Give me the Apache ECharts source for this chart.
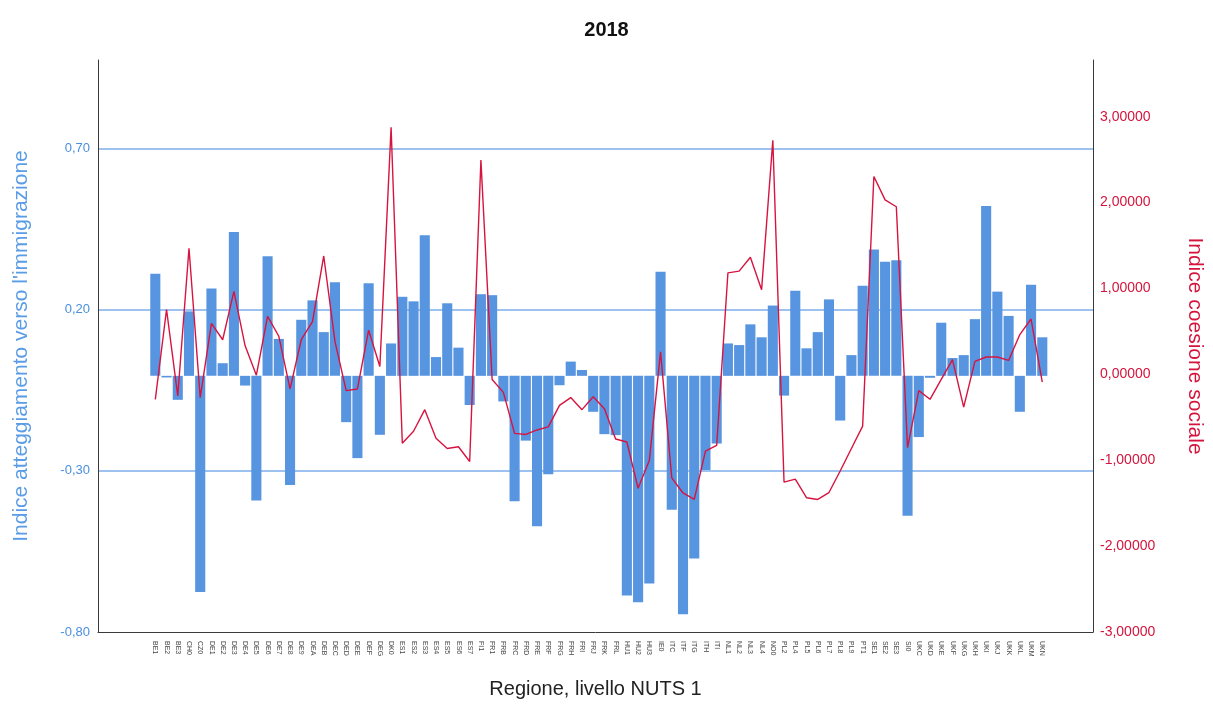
<!DOCTYPE html>
<html>
<head>
<meta charset="utf-8">
<script src="https://cdn.jsdelivr.net/npm/echarts@6/dist/echarts.min.js"></script>
<style>
  html, body { margin: 0; padding: 0; background: #fff; }
  #chart { width: 1213px; height: 704px; }
</style>
</head>
<body>
<div id="chart"></div>
<script>
// regioni NUTS 1
var regioni = ['BE1', 'BE2', 'BE3', 'CH0', 'CZ0', 'DE1', 'DE2', 'DE3', 'DE4', 'DE5', 'DE6', 'DE7', 'DE8', 'DE9', 'DEA', 'DEB',
  'DEC', 'DED', 'DEE', 'DEF', 'DEG', 'DK0', 'ES1', 'ES2', 'ES3', 'ES4', 'ES5', 'ES6', 'ES7', 'FI1', 'FR1', 'FRB',
  'FRC', 'FRD', 'FRE', 'FRF', 'FRG', 'FRH', 'FRI', 'FRJ', 'FRK', 'FRL', 'HU1', 'HU2', 'HU3', 'IE0', 'ITC', 'ITF',
  'ITG', 'ITH', 'ITI', 'NL1', 'NL2', 'NL3', 'NL4', 'NO0', 'PL2', 'PL4', 'PL5', 'PL6', 'PL7', 'PL8', 'PL9', 'PT1',
  'SE1', 'SE2', 'SE3', 'SI0', 'UKC', 'UKD', 'UKE', 'UKF', 'UKG', 'UKH', 'UKI', 'UKJ', 'UKK', 'UKL', 'UKM', 'UKN'];

// indice atteggiamento verso l'immigrazione (barre, asse sinistro)
var atteggiamento = [0.315, -0.005, -0.074, 0.199, -0.667, 0.27, 0.039, 0.444, -0.03, -0.385, 0.369, 0.114, -0.337, 0.173, 0.233, 0.135,
  0.289, -0.143, -0.254, 0.286, -0.182, 0.10, 0.244, 0.23, 0.434, 0.058, 0.224, 0.087, -0.09, 0.252, 0.249, -0.079,
  -0.387, -0.20, -0.464, -0.304, -0.029, 0.044, 0.018, -0.111, -0.18, -0.183, -0.678, -0.699, -0.641, 0.321, -0.413, -0.736,
  -0.564, -0.291, -0.209, 0.10, 0.095, 0.159, 0.119, 0.217, -0.061, 0.263, 0.085, 0.135, 0.236, -0.138, 0.064, 0.278,
  0.39, 0.352, 0.357, -0.432, -0.189, -0.006, 0.164, 0.055, 0.064, 0.175, 0.524, 0.26, 0.185, -0.111, 0.281, 0.119];

// indice coesione sociale (linea, asse destro)
var coesione = [-0.27, 0.77, -0.23, 1.48, -0.25, 0.61, 0.42, 0.98, 0.35, 0.01, 0.69, 0.46, -0.15, 0.42, 0.63, 1.39,
  0.40, -0.17, -0.15, 0.53, 0.11, 2.88, -0.78, -0.64, -0.39, -0.72, -0.84, -0.82, -0.99, 2.50, -0.04, -0.19,
  -0.665, -0.677, -0.625, -0.59, -0.34, -0.25, -0.39, -0.24, -0.38, -0.73, -0.765, -1.30, -0.98, 0.28, -1.18, -1.355,
  -1.43, -0.87, -0.805, 1.195, 1.215, 1.375, 1.00, 2.73, -1.23, -1.195, -1.41, -1.43, -1.35, -1.10, -0.84, -0.58,
  2.31, 2.04, 1.96, -0.83, -0.17, -0.27, -0.04, 0.19, -0.36, 0.17, 0.22, 0.22, 0.18, 0.48, 0.66, -0.07];

// tacche degli assi
var tackeSinistra = [-0.8, -0.3, 0.2, 0.7];
var tackeDestra = [-3, -2, -1, 0, 1, 2, 3];

var font = 'Liberation Sans, Arial, sans-serif';
var minSx = -0.8, maxSx = 0.975;
var minDx = -3, maxDx = 3.66;

function inLista(v, lista) {
  for (var i = 0; i < lista.length; i++) {
    if (Math.abs(v - lista[i]) < 1e-6) return true;
  }
  return false;
}

var chart = echarts.init(document.getElementById('chart'));
var option = {
  animation: false,
  textStyle: { fontFamily: font },
  title: {
    text: '2018',
    left: 'center',
    top: 15,
    textStyle: { fontSize: 20, fontWeight: 'bold', color: '#111', fontFamily: font }
  },
  grid: [
    // cornice con assi e linee di griglia
    { left: 98, right: 112, top: 60, bottom: 69 },
    // area dati (con margine come in SPSS)
    { left: 149.7, right: 165.1, top: 60, bottom: 69 }
  ],
  xAxis: [
    {
      gridIndex: 0,
      type: 'value',
      min: 0,
      max: 1,
      axisLine: { show: true, onZero: false, lineStyle: { color: '#3a3a3a', width: 1 } },
      axisTick: { show: false },
      axisLabel: { show: false },
      splitLine: { show: false },
      name: 'Regione, livello NUTS 1',
      nameLocation: 'middle',
      nameGap: 47,
      nameTextStyle: { fontSize: 20, color: '#222', fontFamily: font }
    },
    {
      gridIndex: 1,
      type: 'category',
      data: regioni,
      axisLine: { show: false },
      axisTick: { show: false },
      axisLabel: { interval: 0, rotate: -90, fontSize: 7, color: '#444', margin: 6, fontFamily: font }
    }
  ],
  yAxis: [
    {
      gridIndex: 0,
      type: 'value',
      position: 'left',
      min: minSx,
      max: maxSx,
      interval: 0.5,
      axisLine: { show: true, onZero: false, lineStyle: { color: '#3a3a3a', width: 1 } },
      axisTick: { show: false },
      axisLabel: {
        color: '#4a8fe0',
        fontSize: 13,
        margin: 8,
        formatter: function (v) {
          return inLista(v, tackeSinistra) ? v.toFixed(2).replace('.', ',') : '';
        }
      },
      splitLine: {
        show: true,
        showMinLine: false,
        showMaxLine: false,
        lineStyle: { color: '#7eaeea', width: 1.5 }
      },
      name: "Indice atteggiamento verso l'immigrazione",
      nameLocation: 'middle',
      nameGap: 66,
      nameTextStyle: { fontSize: 21, color: '#5b9ce6', fontFamily: font }
    },
    {
      gridIndex: 0,
      type: 'value',
      position: 'right',
      min: minDx,
      max: maxDx,
      interval: 1,
      axisLine: { show: true, onZero: false, lineStyle: { color: '#3a3a3a', width: 1 } },
      axisTick: { show: false },
      axisLabel: {
        color: '#d4143c',
        fontSize: 14,
        margin: 7,
        formatter: function (v) {
          return inLista(v, tackeDestra) ? v.toFixed(5).replace('.', ',') : '';
        }
      },
      splitLine: { show: false },
      name: 'Indice coesione sociale',
      nameLocation: 'middle',
      nameRotate: -90,
      nameGap: 91,
      nameTextStyle: { fontSize: 21, color: '#d4143c', fontFamily: font }
    },
    { gridIndex: 1, type: 'value', min: minSx, max: maxSx, show: false },
    { gridIndex: 1, type: 'value', min: minDx, max: maxDx, show: false }
  ],
  series: [
    {
      name: "Indice atteggiamento verso l'immigrazione",
      type: 'bar',
      xAxisIndex: 1,
      yAxisIndex: 2,
      data: atteggiamento,
      barCategoryGap: '10%',
      itemStyle: { color: '#5895e0' }
    },
    {
      name: 'Indice coesione sociale',
      type: 'line',
      xAxisIndex: 1,
      yAxisIndex: 3,
      data: coesione,
      showSymbol: false,
      z: 3,
      lineStyle: { color: '#d7143f', width: 1.4 }
    }
  ]
};
chart.setOption(option);
</script>
</body>
</html>
